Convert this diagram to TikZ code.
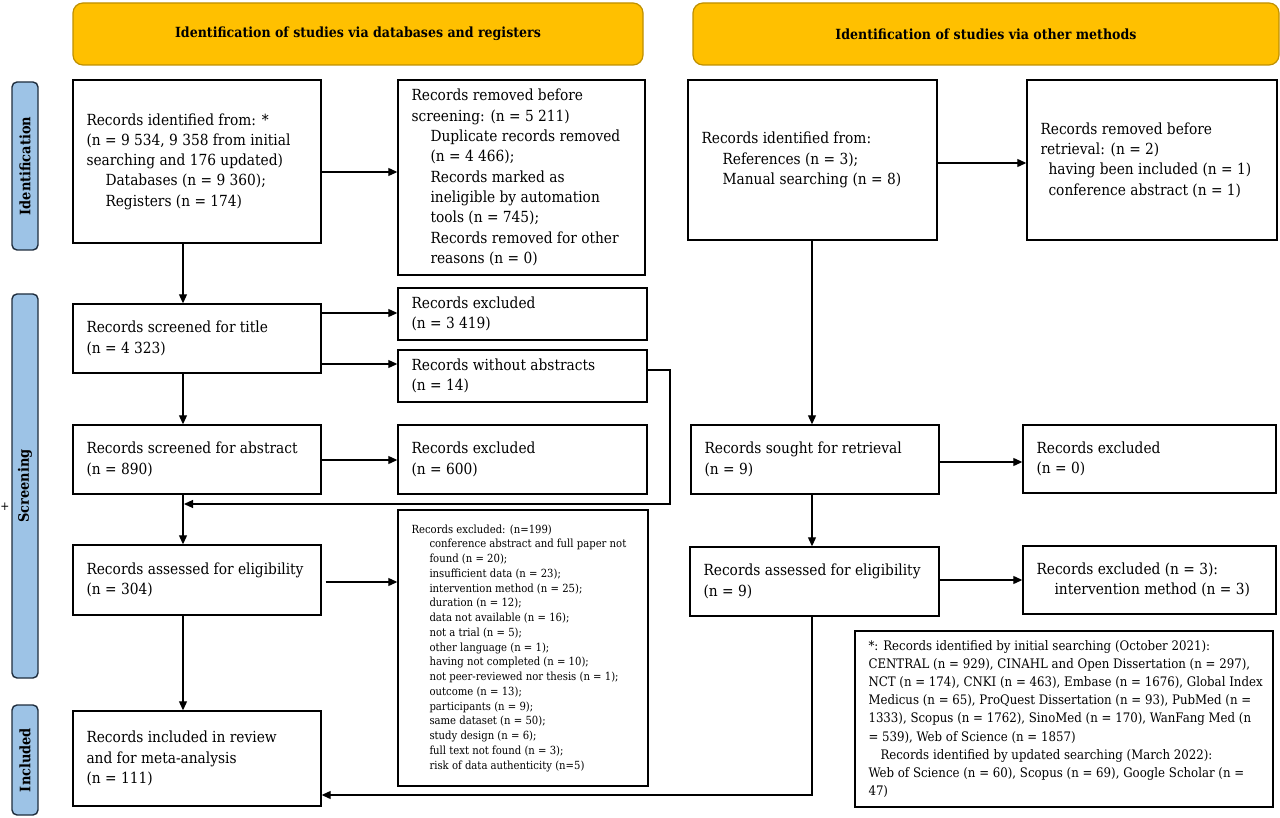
\documentclass[tikz,border=0pt]{standalone}
\usepackage{fontspec}
\IfFontExistsTF{DejaVu Serif Condensed}{\setmainfont{DejaVu Serif Condensed}}{\setmainfont{DejaVu Serif}[FakeStretch=0.88]}
\usetikzlibrary{arrows.meta,calc}
\definecolor{hdrfill}{HTML}{FFC000}
\definecolor{hdrline}{HTML}{BF9000}
\definecolor{phfill}{HTML}{9DC3E6}
\definecolor{phline}{HTML}{1F2D3D}
\newcommand\mainfs{\fontsize{15.3}{20.3}\selectfont}
\newcommand\smallfs{\fontsize{11.2}{14.75}\selectfont}
\newcommand\notefs{\fontsize{13.1}{18.1}\selectfont}
\newcommand\ind[1]{\hspace*{#1pt}}
\newcommand\mybox[7]{%
  \node[box, minimum width=#4pt, minimum height=#5pt] (#1) at (#2,#3) {};
  \node[txt, font=#6] (#1t) at ([xshift=14pt]#1.west) {#7};
}
\begin{document}
\begin{tikzpicture}[x=1pt,y=-1pt,
  box/.style={draw=black, line width=1.4pt, inner sep=0pt, fill=white},
  txt/.style={inner sep=0pt, align=left, anchor=west},
  hdr/.style={draw=hdrline, fill=hdrfill, line width=1.2pt, rounded corners=10pt, inner sep=0pt, font=\fontsize{14}{16}\selectfont\bfseries},
  phase/.style={draw=phline, fill=phfill, line width=1.4pt, rounded corners=5pt, inner sep=0pt, rotate=90, font=\fontsize{14.4}{16}\selectfont\bfseries},
  arr/.style={-{Triangle[length=9pt,width=8pt]}, line width=1.1pt},
  ln/.style={line width=1.1pt}]
\useasboundingbox (0,0) rectangle (1280,818);

% headers
\node[hdr, minimum width=570pt, minimum height=62pt] (H1) at (358,34) {Identification of studies via databases and registers};
\node[hdr, minimum width=586pt, minimum height=62pt] (H2) at (986,34) {Identification of studies via other methods};

% phases
\node[phase, minimum width=168pt, minimum height=26pt] (P1) at (25,166) {Identification};
\node[phase, minimum width=384pt, minimum height=26pt] (P2) at (25,486) {Screening};
\node[phase, minimum width=110pt, minimum height=26pt] (P3) at (25,760) {Included};
\node[inner sep=0pt, font=\fontsize{12}{14}\selectfont] (plus) at (5,507) {+};

% left column
\mybox{B1}{197}{161.5}{248}{163}{\mainfs}{Records identified from: *\\(n = 9 534, 9 358 from initial\\searching and 176 updated)\\\ind{19}Databases (n = 9 360);\\\ind{19}Registers (n = 174)}
\mybox{B2}{521.5}{177.5}{247}{195}{\mainfs}{Records removed before\\screening: (n = 5 211)\\\ind{19}Duplicate records removed\\\ind{19}(n = 4 466);\\\ind{19}Records marked as\\\ind{19}ineligible by automation\\\ind{19}tools (n = 745);\\\ind{19}Records removed for other\\\ind{19}reasons (n = 0)}
\mybox{B3}{197}{338.5}{248}{69}{\mainfs}{Records screened for title\\(n = 4 323)}
\mybox{B4}{522.5}{314}{249}{52}{\mainfs}{Records excluded\\(n = 3 419)}
\mybox{B5}{522.5}{376}{249}{52}{\mainfs}{Records without abstracts\\(n = 14)}
\mybox{B6}{197}{459.5}{248}{69}{\mainfs}{Records screened for abstract\\(n = 890)}
\mybox{B7}{522.5}{459.5}{249}{69}{\mainfs}{Records excluded\\(n = 600)}
\mybox{B8}{197}{580}{248}{70}{\mainfs}{Records assessed for eligibility\\(n = 304)}
\mybox{B9}{523}{648}{250}{276}{\smallfs}{Records excluded: (n=199)\\\ind{18}conference abstract and full paper not\\\ind{18}found (n = 20);\\\ind{18}insufficient data (n = 23);\\\ind{18}intervention method (n = 25);\\\ind{18}duration (n = 12);\\\ind{18}data not available (n = 16);\\\ind{18}not a trial (n = 5);\\\ind{18}other language (n = 1);\\\ind{18}having not completed (n = 10);\\\ind{18}not peer-reviewed nor thesis (n = 1);\\\ind{18}outcome (n = 13);\\\ind{18}participants (n = 9);\\\ind{18}same dataset (n = 50);\\\ind{18}study design (n = 6);\\\ind{18}full text not found (n = 3);\\\ind{18}risk of data authenticity (n=5)}
\mybox{B10}{197}{758.5}{248}{95}{\mainfs}{Records included in review\\and for meta-analysis\\(n = 111)}

% right column
\mybox{R1}{812.5}{160}{249}{160}{\mainfs}{Records identified from:\\\ind{21}References (n = 3);\\\ind{21}Manual searching (n = 8)}
\mybox{R2}{1152}{160}{250}{160}{\mainfs}{Records removed before\\retrieval: (n = 2)\\\ind{8}having been included (n = 1)\\\ind{8}conference abstract (n = 1)}
\mybox{R3}{815}{459.5}{248}{69}{\mainfs}{Records sought for retrieval\\(n = 9)}
\mybox{R4}{1149.5}{459}{253}{68}{\mainfs}{Records excluded\\(n = 0)}
\mybox{R5}{814.5}{581.5}{249}{69}{\mainfs}{Records assessed for eligibility\\(n = 9)}
\mybox{R6}{1149.5}{580}{253}{68}{\mainfs}{Records excluded (n = 3):\\\ind{18}intervention method (n = 3)}
\mybox{F}{1064}{719}{418}{176}{\notefs}{*: Records identified by initial searching (October 2021):\\CENTRAL (n = 929), CINAHL and Open Dissertation (n = 297),\\NCT (n = 174), CNKI (n = 463), Embase (n = 1676), Global Index\\Medicus (n = 65), ProQuest Dissertation (n = 93), PubMed (n =\\1333), Scopus (n = 1762), SinoMed (n = 170), WanFang Med (n\\= 539), Web of Science (n = 1857)\\\ind{12}Records identified by updated searching (March 2022):\\Web of Science (n = 60), Scopus (n = 69), Google Scholar (n =\\47)}

% connectors left
\coordinate (a1) at ([yshift=-10.5pt]B1.east);
\draw[arr] (a1) -- (a1 -| B2.west);
\coordinate (v1) at ([xshift=-14pt]B1.south);
\draw[arr] (v1) -- (v1 |- B3.north);
\coordinate (a2) at ([yshift=25.5pt]B3.east);
\draw[arr] (a2) -- (a2 -| B4.west);
\coordinate (a3) at ([yshift=-25.5pt]B3.east);
\draw[arr] (a3) -- (a3 -| B5.west);
\coordinate (v2) at ([xshift=-14pt]B3.south);
\draw[arr] (v2) -- (v2 |- B6.north);
\coordinate (a4) at ([yshift=-0.5pt]B6.east);
\draw[arr] (a4) -- (a4 -| B7.west);
\coordinate (v3) at ([xshift=-14pt]B6.south);
\draw[arr] (v3) -- (v3 |- B8.north);
\coordinate (l1) at ([yshift=6pt]B5.east);
\coordinate (l2) at (670,504);
\coordinate (jn) at ([xshift=1pt]v3);
\draw[arr] (l1) -| (l2) -- (l2 -| jn);
\coordinate (a5) at ([xshift=4pt,yshift=-2pt]B8.east);
\draw[arr] (a5) -- (a5 -| B9.west);
\coordinate (v4) at ([xshift=-14pt]B8.south);
\draw[arr] (v4) -- (v4 |- B10.north);

% connectors right
\coordinate (b1) at ([yshift=-3pt]R1.east);
\draw[arr] (b1) -- (b1 -| R2.west);
\coordinate (w1) at ([xshift=-0.5pt]R1.south);
\draw[arr] (w1) -- (w1 |- R3.north);
\coordinate (b2) at ([yshift=-2.5pt]R3.east);
\draw[arr] (b2) -- (b2 -| R4.west);
\coordinate (w2) at ([xshift=-3pt]R3.south);
\draw[arr] (w2) -- (w2 |- R5.north);
\coordinate (b3) at ([yshift=1.5pt]R5.east);
\draw[arr] (b3) -- (b3 -| R6.west);
\coordinate (w3) at ([xshift=-2.5pt]R5.south);
\coordinate (b10e) at ([yshift=-36.5pt]B10.east);
\draw[arr] (w3) |- (b10e);
\end{tikzpicture}
\end{document}
